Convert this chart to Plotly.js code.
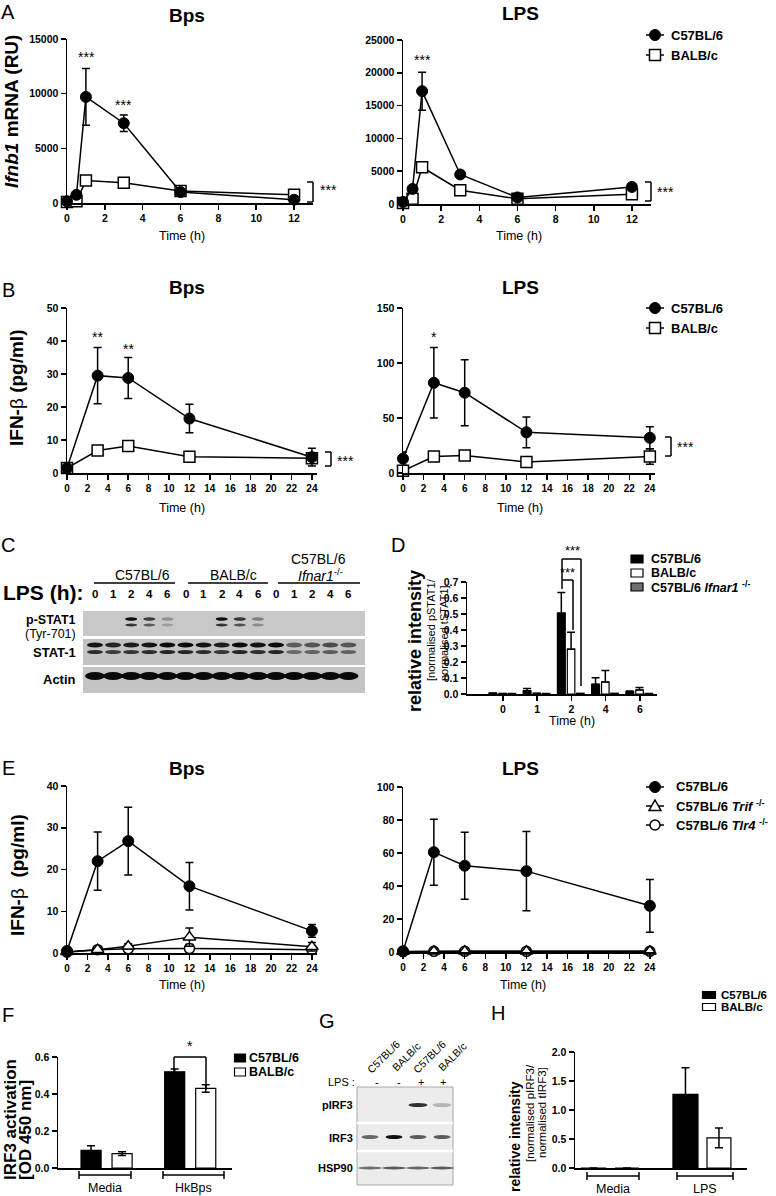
<!DOCTYPE html>
<html><head><meta charset="utf-8">
<script src="https://cdn.plot.ly/plotly-3.0.1.min.js"></script>
<style>html,body{margin:0;padding:0;background:#fff}#chart{width:776px;height:1196px}</style>
</head><body><div id="chart"></div>
<script>
const W=776,H=1196;
const FONT='"Liberation Sans", Arial, Helvetica, sans-serif';

// ---------------- DATA ----------------
const timeA=[0,0.5,1,3,6,12];
const aBpsC57=[150,750,9700,7300,1000,300];
const aBpsC57Err=[0,0,2600,750,0,0];
const aBpsBALB=[100,150,2050,1850,1100,750];
const aLpsC57=[300,2300,17200,4500,1000,2600];
const aLpsC57Err=[0,0,2900,0,0,0];
const aLpsBALB=[150,800,5600,2100,800,1500];

const timeB=[0,3,6,12,24];
const bBpsC57=[1.5,29.5,28.8,16.5,4.8];
const bBpsC57Err=[0,8.5,6.2,4.3,2.7];
const bBpsBALB=[1.5,6.8,8.2,4.9,4.5];
const bLpsC57=[13,82,73,37,32];
const bLpsC57Err=[6,32,30,14,10];
const bLpsBALB=[2,15,16,10,15];
const bLpsBALBErr=[0,0,0,0,7];

const dCats=['0','1','2','4','6'];
const dC57=[0.005,0.02,0.505,0.061,0.014];
const dC57Err=[0.002,0.015,0.13,0.04,0.004];
const dBALB=[0.003,0.004,0.28,0.075,0.025];
const dBALBErr=[0,0,0.106,0.072,0.016];
const dIfnar=[0.004,0.004,0.005,0.005,0.004];

const timeE=[0,3,6,12,24];
const eBpsC57=[0.5,22,26.8,16,5.3];
const eBpsC57Err=[0,7,8.1,5.7,1.5];
const eBpsTrif=[0.3,0.8,1.6,3.8,1.5];
const eBpsTrifErr=[0,0.3,0.6,2.2,1];
const eBpsTlr4=[0.2,0.8,1.0,1.1,0.8];
const eBpsTlr4Err=[0,0,0,1,0.5];
const eLpsC57=[0.5,60.5,52.3,49,28];
const eLpsC57Err=[0,20,20.3,24,16];
const eLpsTrif=[0.3,0.5,0.5,0.5,0.5];
const eLpsTlr4=[0.2,0.4,0.4,0.4,0.4];

const fCats=['Media','HkBps'];
const fC57=[0.095,0.52];
const fC57Err=[0.025,0.015];
const fBALB=[0.078,0.43];
const fBALBErr=[0.01,0.02];

const hCats=['Media','LPS'];
const hC57=[0,1.27];
const hC57Err=[0,0.46];
const hBALB=[0,0.52];
const hBALBErr=[0,0.17];

// western blot band intensities (0..1)
const blotCLanes=['0','1','2','4','6','0','1','2','4','6','0','1','2','4','6'];
const pSTAT1=[0,0,1,0.75,0.3,0,0,1,0.8,0.4,0,0,0,0,0];
const stat1=[0.95,0.85,0.9,0.95,1,1,0.95,0.9,1,0.95,1,0.55,0.6,0.65,0.6];
const actin=[1,1,1,1,1,1,1,1,1,1,1,1,1,1,1];
const blotGLanes=['C57BL/6','BALB/c','C57BL/6','BALB/c'];
const blotGLps=['-','-','+','+'];
const pIRF3=[0,0,0.85,0.25];
const irf3=[0.6,1,0.65,0.65];
const hsp90=[0.6,0.7,0.65,0.7];

// ---------------- HELPERS ----------------
const X=p=>p/W, Y=p=>1-p/H;
const shapes=[], annotations=[];
function txt(text,x,y,size,o={}){
  annotations.push(Object.assign({text, x:X(x), y:Y(y), xref:'paper', yref:'paper', showarrow:false,
    xanchor:'center', yanchor:'middle', borderpad:0, font:{family:FONT,size,color:'black'}}, o));
}
function line(x0,y0,x1,y1,w=1.5,color='black'){
  shapes.push({type:'line',xref:'paper',yref:'paper',x0:X(x0),y0:Y(y0),x1:X(x1),y1:Y(y1),line:{color,width:w}});
}
function rect(x0,y0,x1,y1,fill,lc,lw){
  shapes.push({type:'rect',xref:'paper',yref:'paper',x0:X(x0),y0:Y(y1),x1:X(x1),y1:Y(y0),fillcolor:fill,line:{color:lc||fill,width:lw||0}});
}
function ell(cx,cy,w,h,fill,lc,lw){
  shapes.push({type:'circle',xref:'paper',yref:'paper',x0:X(cx-w/2),x1:X(cx+w/2),y0:Y(cy+h/2),y1:Y(cy-h/2),fillcolor:fill,line:{color:lc||fill,width:lw||0}});
}
function tri(cx,cy,s,fill){
  const p=`M${X(cx)},${Y(cy-s)} L${X(cx+s)},${Y(cy+s*0.75)} L${X(cx-s)},${Y(cy+s*0.75)} Z`;
  shapes.push({type:'path',xref:'paper',yref:'paper',path:p,fillcolor:fill,line:{color:'black',width:1.5}});
}
function rBracket(x,y0,y1,arm){line(x-arm,y0,x,y0);line(x,y0,x,y1);line(x-arm,y1,x,y1);}
function hBracket(x0,x1,y){line(x0,y,x1,y);line(x0,y-4,x0,y+4);line(x1,y-4,x1,y+4);}
function legLine(cx,cy,kind,label,tx,size){
  line(cx-9,cy,cx+9,cy);
  if(kind==='circleFilled') ell(cx,cy,11,11,'black','black',1);
  if(kind==='squareOpen') rect(cx-5.5,cy-5.5,cx+5.5,cy+5.5,'white','black',1.5);
  if(kind==='circleOpen') ell(cx,cy,10,10,'white','black',1.5);
  if(kind==='triOpen') tri(cx,cy,6,'white');
  txt('<b>'+label+'</b>',tx,cy,size,{xanchor:'left'});
}
function legBar(cx,cy,w,h,fill,label,tx,size){
  rect(cx-w/2,cy-h/2,cx+w/2,cy+h/2,fill,'black',1.2);
  txt('<b>'+label+'</b>',tx,cy,size,{xanchor:'left'});
}

function xa(a,b,range,extra){return Object.assign({domain:[a/W,b/W],range,showline:true,linecolor:'black',linewidth:1.5,
  ticks:'outside',ticklen:5,tickwidth:1.5,tickcolor:'black',showgrid:false,zeroline:false,fixedrange:true,
  tickfont:{family:FONT,size:10.5,color:'black',weight:'bold'}},extra||{});}
function ya(top,bottom,range,extra){return Object.assign({domain:[1-bottom/H,1-top/H],range,showline:true,linecolor:'black',linewidth:1.5,
  ticks:'outside',ticklen:5,tickwidth:1.5,tickcolor:'black',showgrid:false,zeroline:false,fixedrange:true,
  tickfont:{family:FONT,size:10.5,color:'black',weight:'bold'}},extra||{});}

function errObj(arr,minus){const e={type:'data',array:arr,visible:true,color:'black',thickness:1.5,width:4};
  if(minus){e.symmetric=false;e.arrayminus=minus;} return e;}
function sc(x,y,err,ax,kind,size){
  const m={size:size||11,line:{color:'black',width:1.5}};
  if(kind==='circleFilled'){m.symbol='circle';m.color='black';m.line.width=1;}
  if(kind==='squareOpen'){m.symbol='square';m.color='white';}
  if(kind==='circleOpen'){m.symbol='circle';m.color='white';}
  if(kind==='triOpen'){m.symbol='triangle-up';m.color='white';}
  const t={type:'scatter',mode:'lines+markers',x,y,xaxis:'x'+ax,yaxis:'y'+ax,cliponaxis:false,
    line:{color:'black',width:1.5},marker:m,hoverinfo:'skip'};
  if(err) t.error_y=errObj(err);
  return t;
}
function bar(x,y,err,ax,fill,offset,width,minus){
  const t={type:'bar',x,y,xaxis:'x'+ax,yaxis:'y'+ax,offset,width,cliponaxis:false,
    marker:{color:fill,line:{color:'black',width:1.2}},hoverinfo:'skip'};
  if(err) t.error_y=errObj(err,minus);
  return t;
}

// ---------------- TRACES ----------------
const zeros5=[0,0,0,0,0];
const traces=[
  sc(timeA,aBpsBALB,null,1,'squareOpen'),
  sc(timeA,aBpsC57,aBpsC57Err,1,'circleFilled'),
  sc(timeA,aLpsBALB,null,2,'squareOpen'),
  sc(timeA,aLpsC57,aLpsC57Err,2,'circleFilled'),
  sc(timeB,bBpsBALB,null,3,'squareOpen'),
  sc(timeB,bBpsC57,bBpsC57Err,3,'circleFilled'),
  sc(timeB,bLpsBALB,bLpsBALBErr,4,'squareOpen'),
  sc(timeB,bLpsC57,bLpsC57Err,4,'circleFilled'),
  bar(dCats,dC57,dC57Err,5,'black',-0.41,0.23,zeros5),
  bar(dCats,dBALB,dBALBErr,5,'white',-0.12,0.22,zeros5),
  bar(dCats,dIfnar,null,5,'#6e6e6e',0.15,0.22),
  sc(timeE,eBpsTlr4,eBpsTlr4Err,6,'circleOpen',10),
  sc(timeE,eBpsTrif,eBpsTrifErr,6,'triOpen',11),
  sc(timeE,eBpsC57,eBpsC57Err,6,'circleFilled'),
  sc(timeE,eLpsTlr4,null,7,'circleOpen',10),
  sc(timeE,eLpsTrif,null,7,'triOpen',11),
  sc(timeE,eLpsC57,eLpsC57Err,7,'circleFilled'),
  bar(fCats,fC57,fC57Err,8,'black',-0.305,0.24),
  bar(fCats,fBALB,fBALBErr,8,'white',0.066,0.24),
  bar(hCats,hC57,hC57Err,9,'black',-0.348,0.272),
  bar(hCats,hBALB,hBALBErr,9,'white',0.022,0.26)
];

// ---------------- AXES ----------------
const tA={tickmode:'linear',tick0:0,dtick:2};
const tB={tickmode:'linear',tick0:0,dtick:2,tickfont:{family:FONT,size:10,color:'black',weight:'bold'}};
const noX={ticks:'',showticklabels:false,type:'category'};
const intY={tickmode:'linear',tick0:0,tickformat:'d',exponentformat:'none',separatethousands:false};
const layout={
  width:W,height:H,margin:{l:0,r:0,t:0,b:0},paper_bgcolor:'white',plot_bgcolor:'rgba(0,0,0,0)',
  showlegend:false,hovermode:false,
  xaxis:xa(67,313,[0,13],Object.assign({anchor:'y'},tA)),
  yaxis:ya(39,203,[0,15000],Object.assign({anchor:'x',dtick:5000},intY)),
  xaxis2:xa(403,651,[0,13],Object.assign({anchor:'y2'},tA)),
  yaxis2:ya(40,204,[0,25000],Object.assign({anchor:'x2',dtick:5000},intY)),
  xaxis3:xa(67,317,[0,24.5],Object.assign({anchor:'y3'},tB)),
  yaxis3:ya(308,473,[0,50],Object.assign({anchor:'x3',dtick:10},intY)),
  xaxis4:xa(403,655,[0,24.5],Object.assign({anchor:'y4'},tB)),
  yaxis4:ya(308,473,[0,150],Object.assign({anchor:'x4',dtick:50},intY)),
  xaxis5:xa(467,657,[-1.05,4.5],{anchor:'y5',type:'category'}),
  yaxis5:ya(582,694,[0,0.7],{anchor:'x5',tickmode:'linear',tick0:0,dtick:0.1,tickformat:'.1f'}),
  xaxis6:xa(67,317,[0,24.5],Object.assign({anchor:'y6'},tB)),
  yaxis6:ya(786,953,[0,40],Object.assign({anchor:'x6',dtick:10},intY)),
  xaxis7:xa(403,655,[0,24.5],Object.assign({anchor:'y7'},tB)),
  yaxis7:ya(787,952,[0,100],Object.assign({anchor:'x7',dtick:20},intY)),
  xaxis8:xa(58,232,[-0.58,1.5],Object.assign({anchor:'y8'},noX)),
  yaxis8:ya(1057,1168,[0,0.6],{anchor:'x8',tickmode:'linear',tick0:0,dtick:0.2,tickformat:'.1f'}),
  xaxis9:xa(575,747,[-0.413,1.457],Object.assign({anchor:'y9'},noX)),
  yaxis9:ya(1052,1168,[0,2],{anchor:'x9',tickmode:'linear',tick0:0,dtick:0.5,tickformat:'.1f'})
};

// ---------------- TEXT ----------------
[['A',8,12],['B',8,290],['C',8,545],['D',398,545],['E',8,768],['F',8,1015],['G',327,1021],['H',498,1013]]
  .forEach(([t,x,y])=>txt(t,x,y,20));
[['Bps',187,15],['LPS',520,13],['Bps',187,287],['LPS',520,287],['Bps',187,768],['LPS',520,768]]
  .forEach(([t,x,y])=>txt('<b>'+t+'</b>',x,y,19));
[[182,236],[519,236],[182,508],[520,508],[182,985],[523,985],[572,721]].forEach(([x,y])=>txt('Time (h)',x,y,12.5));
txt('<b><i>Ifnb1</i> mRNA (RU)</b>',12,112,19,{textangle:-90});
txt('<b>IFN-</b>β<b> (pg/ml)</b>',16,388,19,{textangle:-90});
txt('<b>IFN-</b>β<b>&nbsp; (pg/ml)</b>',17,875,19,{textangle:-90});
txt('<b>relative intensity</b>',415,641,18,{textangle:-90});
txt('[normalised pSTAT1/',431,630,11,{textangle:-90});
txt('normalised tSTAT1]',444,633,11,{textangle:-90});
txt('<b>IRF3 activation</b>',10,1120,17,{textangle:-90});
txt('<b>[OD 450 nm]</b>',25,1130,17,{textangle:-90});
txt('<b>relative intensity</b>',515,1137,14,{textangle:-90});
txt('[normalised pIRF3/',530,1113,11.5,{textangle:-90});
txt('normalised tIRF3]',542,1113,11.5,{textangle:-90});

txt('***',86,57,14); txt('***',124,105,14);
rBracket(313,182,202,6); txt('***',328,190,14);
txt('***',423,60,14);
rBracket(651,182,201,6); txt('***',665,192,14);
txt('**',97,337,14); txt('**',128,349,14);
rBracket(331,452,466,6); txt('***',345,461,14);
txt('*',434,337,14);
rBracket(671,437,456,6); txt('***',685,447,14);
line(562,580,573,580); line(562,580,562,589); line(573,580,573,630); txt('***',567,572,13);
line(562,559,581,559); line(562,559,562,580); line(581,559,581,686); txt('***',572,550,13);
line(174,1057,206,1057); line(174,1057,174,1075); line(206,1057,206,1090); txt('*',190,1046,14);
hBracket(79,131,1175); hBracket(163,224,1175);
txt('Media',105,1188,12.5); txt('HkBps',193,1188,12.5);
hBracket(587,639,1176); hBracket(677,733,1176);
txt('Media',613,1189,12.5); txt('LPS',705,1189,12.5);

legLine(655,35,'circleFilled','C57BL/6',670,13);
legLine(655,55,'squareOpen','BALB/c',670,13);
legLine(655,308,'circleFilled','C57BL/6',670,13);
legLine(655,328,'squareOpen','BALB/c',670,13);
legLine(655,787,'circleFilled','C57BL/6',675,13);
legLine(655,806,'triOpen','C57BL/6 <i>Trif</i> <sup>-/-</sup>',675,13);
legLine(655,825,'circleOpen','C57BL/6 <i>Tlr4</i> <sup>-/-</sup>',675,13);
legBar(637,559,12,8,'black','C57BL/6',650,12.5);
legBar(637,573,12,8,'white','BALB/c',650,12.5);
legBar(637,587,12,8,'#6e6e6e','C57BL/6 <i>Ifnar1</i> <sup>-/-</sup>',650,12.5);
legBar(240,1058,11,8,'black','C57BL/6',248,12.5);
legBar(240,1072,11,8,'white','BALB/c',248,12.5);
legBar(709,995,13,7,'black','C57BL/6',720,11.5);
legBar(709,1007,13,7,'white','BALB/c',720,11.5);

// ---------------- BLOT C ----------------
txt('C57BL/6',142,575,14); txt('BALB/c',233,575,14);
txt('C57BL/6',318,559,14); txt('<i>Ifnar1</i><sup>-/-</sup>',320,575,14);
line(94,583,175,583); line(188,583,268,583); line(278,583,360,583);
txt('<b>LPS (h):</b>',2,593,21,{xanchor:'left'});
const laneC=i=>95+i*18.1;
blotCLanes.forEach((t,i)=>txt('<b>'+t+'</b>',laneC(i),594,11.5));
txt('<b>p-STAT1</b>',77,620,12.5,{xanchor:'right'});
txt('(Tyr-701)',77,634,12.5,{xanchor:'right'});
txt('<b>STAT-1</b>',77,652,13,{xanchor:'right'});
txt('<b>Actin</b>',77,679,13,{xanchor:'right'});
rect(83,611,365,636,'#c8c8c8');
rect(83,639,365,665,'#c2c2c2');
rect(83,667,365,693,'#c4c4c4');
pSTAT1.forEach((v,i)=>{ if(v>0){ ell(laneC(i),619,12,3.5,`rgba(15,15,15,${v})`); ell(laneC(i),625,12,3,`rgba(15,15,15,${v*0.8})`);} });
stat1.forEach((v,i)=>{ ell(laneC(i),645,16,5,`rgba(10,10,10,${v})`); ell(laneC(i),652,16,4,`rgba(10,10,10,${v*0.85})`); });
actin.forEach((v,i)=>{ ell(laneC(i),676,20,8,`rgba(10,10,10,${v})`); });

// ---------------- BLOT G ----------------
const laneGLabel=i=>377+i*22;
const laneGBand=i=>370+i*24;
blotGLanes.forEach((t,i)=>txt(t,383+i*23,1057,10.5,{textangle:-45}));
txt('LPS :',356,1082,11,{xanchor:'right'});
blotGLps.forEach((t,i)=>txt(t,laneGLabel(i),1082,11));
rect(357,1087,453,1185,'#ececec','#a8a8a8',1);
line(357,1123,453,1123,2.5,'white'); line(357,1151,453,1151,2.5,'white');
txt('<b>pIRF3</b>',354,1105,11,{xanchor:'right'});
txt('<b>IRF3</b>',354,1138,11,{xanchor:'right'});
txt('<b>HSP90</b>',354,1168,11,{xanchor:'right'});
pIRF3.forEach((v,i)=>{ if(v>0) ell(laneGBand(i),1105,19,4,`rgba(15,15,15,${v})`); });
irf3.forEach((v,i)=>ell(laneGBand(i),1137,17,4,`rgba(15,15,15,${v})`));
hsp90.forEach((v,i)=>ell(laneGBand(i),1168,24,3,`rgba(30,30,30,${v})`));

layout.shapes=shapes; layout.annotations=annotations;
Plotly.newPlot('chart',traces,layout,{staticPlot:true,displayModeBar:false});
</script></body></html>
